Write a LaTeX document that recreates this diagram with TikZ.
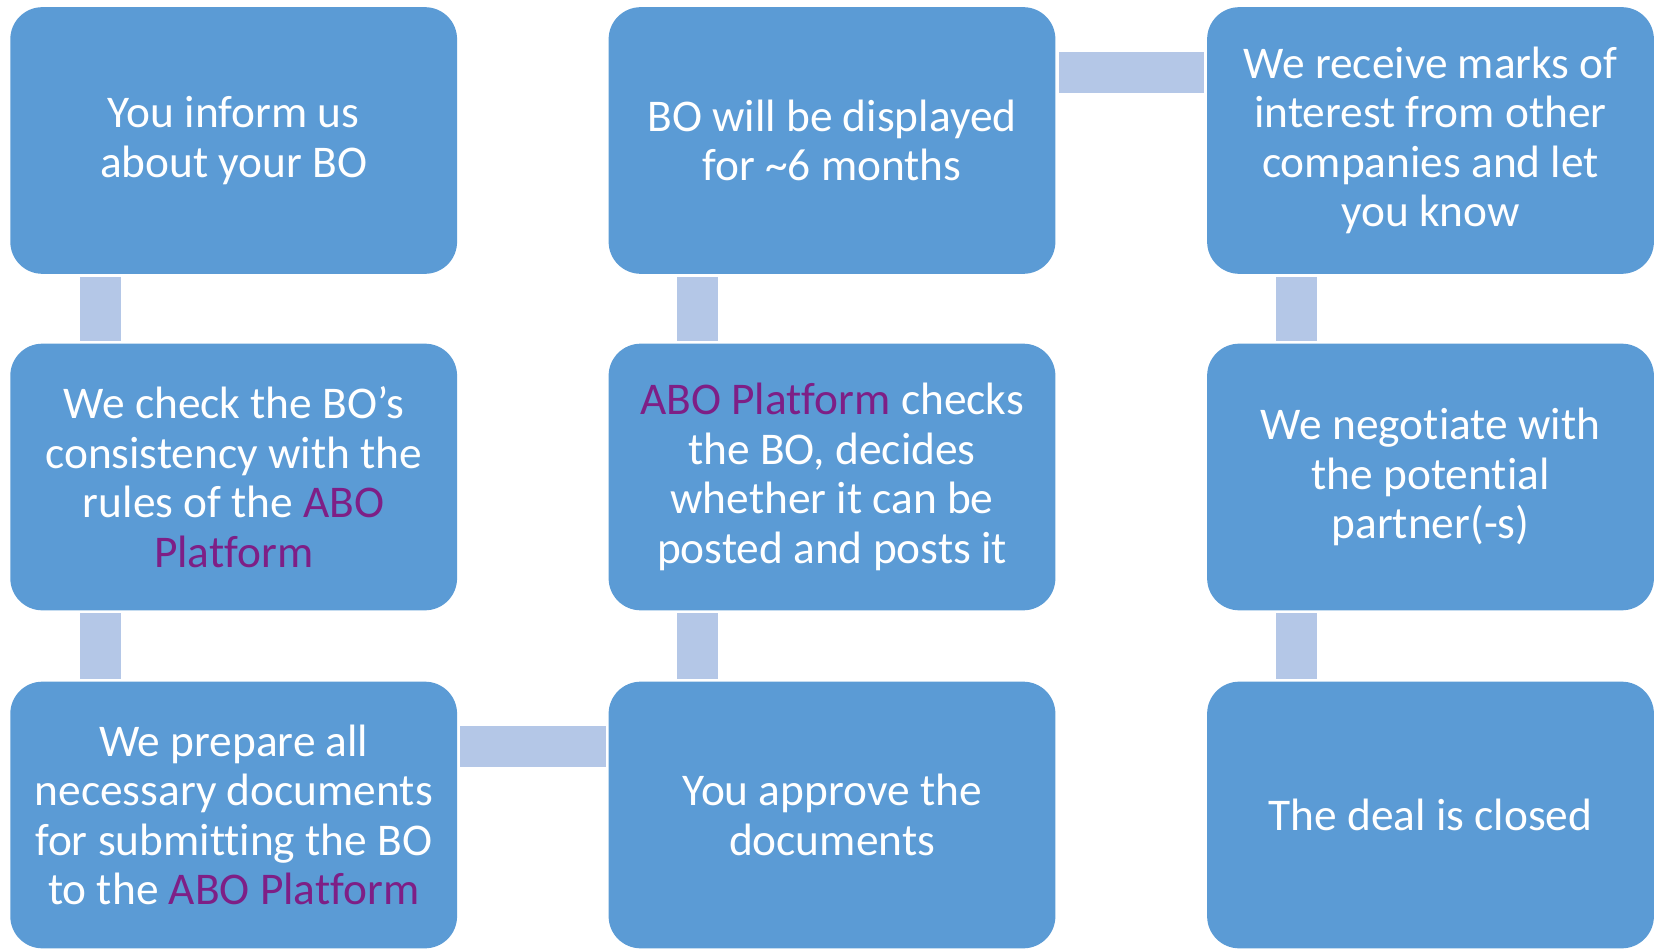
\documentclass[tikz,border=0pt]{standalone}
\usepackage{fontspec}
\setmainfont[Ligatures=NoCommon]{Carlito}
\usetikzlibrary{calc}
\usepackage{xcolor}
\definecolor{myblue}{HTML}{5B9BD5}
\definecolor{mybar}{HTML}{B4C7E7}
\definecolor{mypurple}{HTML}{7E1F86}
\newcommand{\abo}[1]{\textcolor{mypurple}{#1}}

\tikzset{
  stagebox/.style={fill=myblue, draw=none, rounded corners=0.32cm,
    minimum width=4.465cm, minimum height=2.665cm, inner sep=0pt, outer sep=0pt,
    align=center, text=white,
    font=\fontsize{12.9}{14.1}\selectfont},
  bar/.style={draw=mybar, line width=0.41cm}
}

\begin{document}
\begin{tikzpicture}[x=0.01cm,y=-0.01cm]

      \useasboundingbox (0,0) rectangle (1658,949);

      \pgfmathsetmacro{\colA}{233.7}
      \pgfmathsetmacro{\colB}{832}
      \pgfmathsetmacro{\colC}{1430.5}
      \pgfmathsetmacro{\rowA}{140.5}
      \pgfmathsetmacro{\rowB}{477}
      \pgfmathsetmacro{\rowC}{815}

      % first column
      \node [stagebox, name=b11] at (\colA,\rowA) {You inform us\\about your BO};
      \node [stagebox, name=b12] at (\colA,\rowB) {We check the BO’s\\consistency with the\\rules of the \abo{ABO}\\\abo{Platform}};
      \node [stagebox, name=b13] at (\colA,\rowC) {We prepare all\\necessary documents\\for submitting the BO\\to the \abo{ABO Platform}};

      % second column
      \node [stagebox, name=b21] at (\colB,\rowA) {BO will be displayed\\for \textasciitilde6 months};
      \node [stagebox, name=b22] at (\colB,\rowB) {\abo{ABO Platform} checks\\the BO, decides\\whether it can be\\posted and posts it};
      \node [stagebox, name=b23] at (\colB,\rowC) {You approve the\\documents};

      % third column
      \node [stagebox, name=b31] at (\colC,\rowA) {We receive marks of\\interest from other\\companies and let\\you know};
      \node [stagebox, name=b32] at (\colC,\rowB) {We negotiate with\\the potential\\partner(-s)};
      \node [stagebox, name=b33] at (\colC,\rowC) {The deal is closed};

      % bars
      \draw [bar] ($(b11.south west)+(90,3)$) -- ($(b12.north west)+(90,-3)$);
      \draw [bar] ($(b12.south west)+(90,3)$) -- ($(b13.north west)+(90,-3)$);
      \draw [bar] ($(b13.north east)+(3,65)$) -- ($(b23.north west)+(-3,65)$);
      \draw [bar] ($(b23.north west)+(89,-3)$) -- ($(b22.south west)+(89,3)$);
      \draw [bar] ($(b22.north west)+(89,-3)$) -- ($(b21.south west)+(89,3)$);
      \draw [bar] ($(b21.north east)+(4,65)$) -- ($(b31.north west)+(-3,65)$);
      \draw [bar] ($(b31.south west)+(89,3)$) -- ($(b32.north west)+(89,-3)$);
      \draw [bar] ($(b32.south west)+(89,3)$) -- ($(b33.north west)+(89,-3)$);

\end{tikzpicture}
\end{document}
